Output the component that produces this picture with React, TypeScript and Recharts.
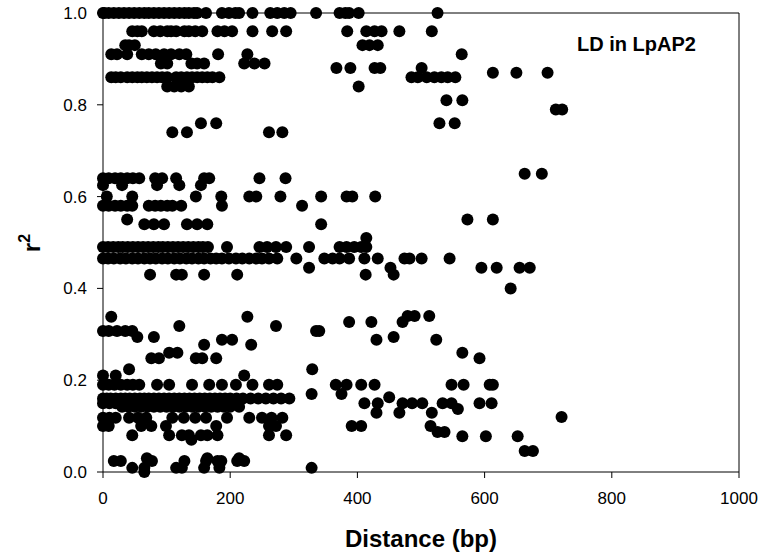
import React from "react";
import {
  ScatterChart,
  Scatter,
  XAxis,
  YAxis,
  ReferenceLine,
} from "recharts";

const FONT = "'Liberation Sans', Arial, Helvetica, sans-serif";

const xTicks = [0, 200, 400, 600, 800, 1000];
const yTicks = [0, 0.2, 0.4, 0.6, 0.8, 1.0];

// [distance (bp), r2] pairs, grouped by r2 band
const strongLD: [number, number][] = [
  [0, 1], [2, 1], [9, 1], [17, 1], [25, 1], [33, 1], [41, 1], [49, 1], [57, 1], [65, 1],
  [72, 1], [80, 1], [88, 1], [96, 1], [104, 1], [112, 1], [120, 1], [128, 1], [135, 1],
  [143, 1], [148, 1], [162, 1], [187, 1], [198, 1], [208, 1], [214, 1], [235, 1], [263, 1],
  [274, 1], [285, 1], [295, 1], [335, 1], [372, 1], [381, 1], [387, 1], [402, 1], [526, 1],
  [46, 0.96], [54, 0.96], [61, 0.96], [80, 0.96], [90, 0.96], [101, 0.96], [107, 0.96],
  [115, 0.96], [128, 0.96], [135, 0.96], [145, 0.96], [156, 0.96], [180, 0.96], [191, 0.96],
  [203, 0.96], [235, 0.96], [266, 0.96], [288, 0.96], [384, 0.96], [414, 0.96], [427, 0.96],
  [438, 0.96], [466, 0.96], [517, 0.96],
  [35, 0.93], [41, 0.93], [50, 0.93], [408, 0.93], [419, 0.93], [432, 0.93],
  [13, 0.91], [22, 0.91], [38, 0.91], [61, 0.91], [72, 0.91], [83, 0.91], [96, 0.91],
  [107, 0.91], [120, 0.91], [131, 0.91], [181, 0.91], [227, 0.91], [564, 0.91],
  [91, 0.89], [101, 0.89], [139, 0.89], [148, 0.89], [159, 0.89], [222, 0.89], [238, 0.89],
  [254, 0.89],
  [367, 0.88], [389, 0.88], [427, 0.88], [436, 0.88], [501, 0.88],
  [613, 0.87], [650, 0.87], [699, 0.87],
  [13, 0.86], [20, 0.86], [28, 0.86], [38, 0.86], [46, 0.86], [54, 0.86], [61, 0.86],
  [69, 0.86], [77, 0.86], [85, 0.86], [93, 0.86], [101, 0.86], [115, 0.86], [123, 0.86],
  [132, 0.86], [140, 0.86], [148, 0.86], [156, 0.86], [164, 0.86], [172, 0.86], [183, 0.86],
  [485, 0.86], [495, 0.86], [509, 0.86], [521, 0.86], [532, 0.86], [542, 0.86], [554, 0.86],
  [101, 0.84], [112, 0.84], [123, 0.84], [135, 0.84], [402, 0.84],
  [540, 0.81], [565, 0.81],
  [712, 0.79], [722, 0.79],
  [154, 0.76], [178, 0.76], [529, 0.76], [553, 0.76],
  [109, 0.74], [132, 0.74], [261, 0.74], [282, 0.74],
];

const moderateLD: [number, number][] = [
  [663, 0.65], [690, 0.65],
  [0, 0.64], [9, 0.64], [19, 0.64], [28, 0.64], [38, 0.64], [47, 0.64], [57, 0.64],
  [82, 0.64], [93, 0.64], [115, 0.64], [159, 0.64], [167, 0.64], [246, 0.64], [287, 0.64],
  [0, 0.625], [30, 0.625], [85, 0.625], [120, 0.625], [154, 0.625],
  [6, 0.6], [46, 0.6], [146, 0.6], [186, 0.6], [230, 0.6], [241, 0.6], [279, 0.6],
  [343, 0.6], [383, 0.6], [392, 0.6], [428, 0.6],
  [0, 0.58], [9, 0.58], [19, 0.58], [28, 0.58], [38, 0.58], [46, 0.58], [72, 0.58],
  [82, 0.58], [91, 0.58], [101, 0.58], [109, 0.58], [123, 0.58], [187, 0.58], [313, 0.58],
  [38, 0.55], [573, 0.55], [613, 0.55],
  [65, 0.54], [80, 0.54], [96, 0.54], [132, 0.54], [148, 0.54], [164, 0.54], [343, 0.54],
  [414, 0.51],
  [0, 0.49], [8, 0.49], [16, 0.49], [24, 0.49], [31, 0.49], [39, 0.49], [47, 0.49],
  [55, 0.49], [63, 0.49], [71, 0.49], [79, 0.49], [87, 0.49], [94, 0.49], [102, 0.49],
  [110, 0.49], [118, 0.49], [126, 0.49], [134, 0.49], [142, 0.49], [150, 0.49], [157, 0.49],
  [165, 0.49], [195, 0.49], [246, 0.49], [258, 0.49], [272, 0.49], [288, 0.49], [324, 0.49],
  [372, 0.49], [383, 0.49], [395, 0.49], [406, 0.49], [414, 0.49],
  [0, 0.465], [8, 0.465], [17, 0.465], [27, 0.465], [36, 0.465], [46, 0.465], [55, 0.465],
  [65, 0.465], [74, 0.465], [83, 0.465], [93, 0.465], [102, 0.465], [112, 0.465],
  [121, 0.465], [131, 0.465], [140, 0.465], [150, 0.465], [159, 0.465], [169, 0.465],
  [178, 0.465], [187, 0.465], [198, 0.465], [209, 0.465], [219, 0.465], [230, 0.465],
  [241, 0.465], [250, 0.465], [261, 0.465], [274, 0.465], [304, 0.465], [348, 0.465],
  [361, 0.465], [372, 0.465], [387, 0.465], [411, 0.465], [432, 0.465], [474, 0.465],
  [482, 0.465], [501, 0.465], [545, 0.465],
  [324, 0.445], [452, 0.445], [595, 0.445], [619, 0.445], [655, 0.445], [671, 0.445],
  [74, 0.43], [115, 0.43], [124, 0.43], [159, 0.43], [211, 0.43], [413, 0.43], [457, 0.43],
  [641, 0.4],
];

const weakLD: [number, number][] = [
  [13, 0.338], [227, 0.338], [479, 0.34], [490, 0.34], [513, 0.34],
  [387, 0.327], [422, 0.327], [471, 0.327],
  [120, 0.318], [272, 0.318],
  [0, 0.307], [9, 0.307], [22, 0.307], [35, 0.307], [46, 0.307], [335, 0.307], [340, 0.307],
  [54, 0.294], [80, 0.294], [457, 0.294],
  [187, 0.288], [203, 0.288], [430, 0.288], [524, 0.288],
  [159, 0.277], [233, 0.277],
  [104, 0.26], [117, 0.26], [565, 0.26],
  [76, 0.248], [88, 0.248], [146, 0.248], [156, 0.248], [178, 0.248], [592, 0.248],
  [41, 0.224], [329, 0.224],
  [0, 0.21], [20, 0.21], [222, 0.21],
  [0, 0.19], [9, 0.19], [18, 0.19], [28, 0.19], [38, 0.19], [47, 0.19], [57, 0.19],
  [85, 0.19], [104, 0.19], [140, 0.19], [167, 0.19], [187, 0.19], [209, 0.19], [235, 0.19],
  [261, 0.19], [274, 0.19], [366, 0.19], [383, 0.19], [406, 0.19], [427, 0.19], [548, 0.19],
  [567, 0.19], [608, 0.19], [613, 0.19],
  [328, 0.17], [375, 0.17], [450, 0.163],
  [0, 0.16], [6, 0.16], [12, 0.16], [20, 0.16], [28, 0.16], [35, 0.16], [42, 0.16],
  [50, 0.16], [58, 0.16], [65, 0.16], [72, 0.16], [80, 0.16], [88, 0.16], [96, 0.16],
  [104, 0.16], [112, 0.16], [120, 0.16], [128, 0.16], [136, 0.16], [144, 0.16], [152, 0.16],
  [160, 0.16], [168, 0.16], [176, 0.16], [184, 0.16], [192, 0.16], [200, 0.16], [210, 0.16],
  [220, 0.16], [232, 0.16], [244, 0.16], [256, 0.16], [268, 0.16], [280, 0.16], [293, 0.16],
  [0, 0.15], [10, 0.15], [20, 0.15], [411, 0.15], [432, 0.15], [471, 0.15], [486, 0.15],
  [502, 0.15], [534, 0.15], [548, 0.15], [592, 0.15], [611, 0.15],
  [30, 0.142], [40, 0.142], [50, 0.142], [60, 0.142], [70, 0.142], [80, 0.142], [90, 0.142],
  [100, 0.142], [110, 0.142], [120, 0.142], [130, 0.142], [140, 0.142], [150, 0.142],
  [160, 0.142], [170, 0.142], [180, 0.142], [190, 0.142], [200, 0.142], [214, 0.142],
  [558, 0.137], [430, 0.129], [466, 0.129], [517, 0.129], [721, 0.12],
  [0, 0.118], [10, 0.118], [20, 0.118], [41, 0.118], [55, 0.118], [68, 0.118], [109, 0.118],
  [127, 0.118], [145, 0.118], [162, 0.118], [195, 0.118], [230, 0.118], [250, 0.118],
  [265, 0.118], [282, 0.118],
  [0, 0.1], [9, 0.1], [60, 0.1], [76, 0.1], [99, 0.1], [178, 0.1], [261, 0.1], [272, 0.1],
  [391, 0.1], [406, 0.1], [515, 0.1],
  [526, 0.087], [537, 0.087],
  [46, 0.08], [104, 0.08], [124, 0.08], [135, 0.08], [154, 0.08], [164, 0.08], [180, 0.08],
  [261, 0.08], [288, 0.08], [565, 0.078], [602, 0.078], [652, 0.078],
  [139, 0.07],
  [663, 0.046], [676, 0.046],
  [69, 0.03], [164, 0.03], [214, 0.03],
  [17, 0.024], [28, 0.024], [77, 0.024], [128, 0.024], [162, 0.024], [180, 0.024],
  [186, 0.024], [211, 0.024], [222, 0.024],
  [46, 0.009], [65, 0.009], [115, 0.009], [124, 0.009], [159, 0.009], [183, 0.009],
  [328, 0.009], [65, 0.0],
];

const toPoints = (pairs: [number, number][]) =>
  pairs.map(([d, r2]) => ({ d, r2 }));

const Dot = (props: any) => (
  <circle cx={props.cx} cy={props.cy} r={6} fill="#000" />
);

const R2Label = () => (
  <text
    transform="translate(40,243) rotate(-90)"
    textAnchor="middle"
    fontFamily={FONT}
    fontWeight="bold"
    fontSize={24}
    fill="#000"
  >
    r
    <tspan fontSize={16} dy={-10}>
      2
    </tspan>
  </text>
);

const tickStyle = { fill: "#000", fontSize: 17, fontFamily: FONT };

export default function App() {
  return (
    <div style={{ position: "absolute", left: 0, top: 0, width: 773, height: 557 }}>
      <ScatterChart
        width={773}
        height={557}
        margin={{ top: 13, right: 34, bottom: 0, left: 0 }}
      >
        <XAxis
          type="number"
          dataKey="d"
          domain={[0, 1000]}
          ticks={xTicks}
          height={85}
          tickSize={6}
          tickMargin={14}
          tick={tickStyle}
          axisLine={{ stroke: "#000" }}
          tickLine={{ stroke: "#000" }}
          label={{
            value: "Distance (bp)",
            position: "insideBottom",
            offset: 10,
            fontSize: 24,
            fontWeight: "bold",
            fill: "#000",
            fontFamily: FONT,
          }}
        />
        <YAxis
          type="number"
          dataKey="r2"
          domain={[0, 1]}
          ticks={yTicks}
          width={103}
          tickSize={6}
          tickMargin={10}
          tick={tickStyle}
          tickFormatter={(v: number) => v.toFixed(1)}
          axisLine={{ stroke: "#000" }}
          tickLine={{ stroke: "#000" }}
          label={<R2Label />}
        />
        <ReferenceLine y={1} stroke="#000" />
        <ReferenceLine x={1000} stroke="#000" />
        <Scatter data={toPoints(weakLD)} shape={Dot} isAnimationActive={false} />
        <Scatter data={toPoints(moderateLD)} shape={Dot} isAnimationActive={false} />
        <Scatter data={toPoints(strongLD)} shape={Dot} isAnimationActive={false} />
      </ScatterChart>
      <svg
        width={773}
        height={557}
        style={{ position: "absolute", left: 0, top: 0, pointerEvents: "none" }}
      >
        <text
          x={577}
          y={51}
          fontFamily={FONT}
          fontWeight="bold"
          fontSize={20}
          fill="#000"
        >
          LD in LpAP2
        </text>
      </svg>
    </div>
  );
}
